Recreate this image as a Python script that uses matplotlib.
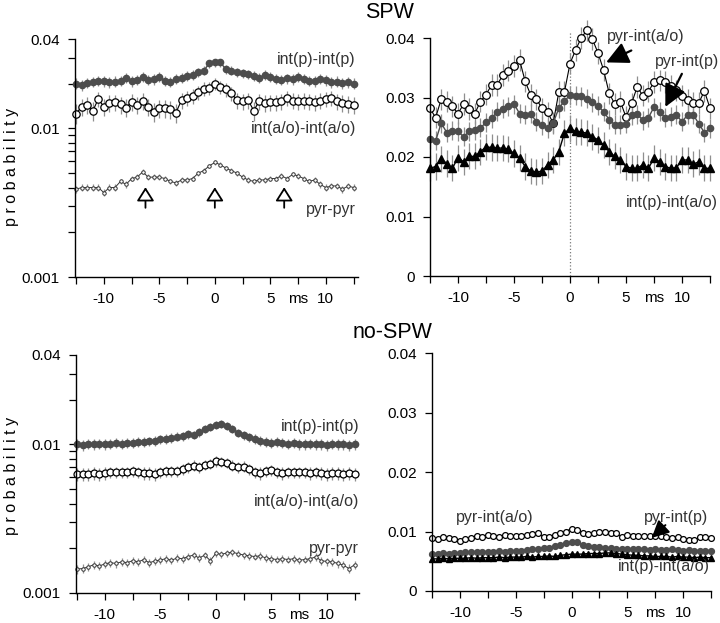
import numpy as np
import matplotlib
matplotlib.use('Agg')
import matplotlib.pyplot as plt
from matplotlib.ticker import FixedLocator, NullFormatter, FixedFormatter

plt.rcParams['font.family'] = ['Liberation Sans', 'DejaVu Sans']

# lag bins (ms)
lags = np.arange(-25, 26) * 0.5

# SPW, log panel
spw_ii_p = [0.0200, 0.0196, 0.0203, 0.0206, 0.0209, 0.0208, 0.0204, 0.0207, 0.0210, 0.0218, 0.0208, 0.0212, 0.0222,
            0.0212, 0.0214, 0.0222, 0.0210, 0.0206, 0.0215, 0.0220, 0.0225, 0.0230, 0.0238, 0.0245, 0.0274, 0.0278,
            0.0278, 0.0250, 0.0245, 0.0240, 0.0236, 0.0232, 0.0225, 0.0218, 0.0230, 0.0222, 0.0216, 0.0212, 0.0217,
            0.0214, 0.0222, 0.0215, 0.0210, 0.0208, 0.0216, 0.0211, 0.0205, 0.0207, 0.0202, 0.0204, 0.0200]
spw_ii_ao = [0.0126, 0.0140, 0.0144, 0.0131, 0.0158, 0.0140, 0.0148, 0.0150, 0.0145, 0.0138, 0.0151, 0.0144, 0.0153,
             0.0140, 0.0130, 0.0137, 0.0137, 0.0135, 0.0128, 0.0155, 0.0160, 0.0165, 0.0175, 0.0185, 0.0186, 0.0200,
             0.0190, 0.0183, 0.0172, 0.0155, 0.0152, 0.0155, 0.0132, 0.0152, 0.0148, 0.0150, 0.0150, 0.0152, 0.0160,
             0.0154, 0.0152, 0.0154, 0.0152, 0.0150, 0.0154, 0.0158, 0.0160, 0.0152, 0.0148, 0.0146, 0.0144]
spw_pp = [0.0039, 0.0040, 0.0040, 0.0040, 0.0040, 0.0037, 0.0040, 0.0040, 0.0044, 0.0042, 0.0046, 0.0047, 0.0051,
          0.0047, 0.0047, 0.0047, 0.0046, 0.0044, 0.0043, 0.0045, 0.0045, 0.0046, 0.0050, 0.0052, 0.0056, 0.0059,
          0.0057, 0.0054, 0.0052, 0.0050, 0.0047, 0.0045, 0.0044, 0.0045, 0.0045, 0.0046, 0.0046, 0.0048, 0.0046,
          0.0049, 0.0048, 0.0046, 0.0044, 0.0045, 0.0042, 0.0040, 0.0041, 0.0041, 0.0039, 0.0041, 0.0040]

# SPW, linear panel
spw_pi_ao = [0.0282, 0.0266, 0.0297, 0.0293, 0.0285, 0.0273, 0.0289, 0.0281, 0.0273, 0.0293, 0.0305, 0.0321, 0.0321,
             0.0338, 0.0345, 0.0353, 0.0363, 0.0327, 0.0304, 0.0297, 0.0282, 0.0275, 0.0257, 0.0309, 0.0309, 0.0357,
             0.0380, 0.0400, 0.0413, 0.0398, 0.0375, 0.0346, 0.0307, 0.0289, 0.0293, 0.0267, 0.0290, 0.0318, 0.0303,
             0.0310, 0.0326, 0.0329, 0.0326, 0.0320, 0.0312, 0.0303, 0.0296, 0.0291, 0.0291, 0.0311, 0.0282]
spw_pi_p = [0.0230, 0.0227, 0.0257, 0.0241, 0.0244, 0.0243, 0.0234, 0.0243, 0.0245, 0.0249, 0.0258, 0.0265, 0.0276,
            0.0281, 0.0285, 0.0289, 0.0273, 0.0271, 0.0273, 0.0259, 0.0253, 0.0248, 0.0257, 0.0282, 0.0294, 0.0304,
            0.0303, 0.0302, 0.0298, 0.0292, 0.0286, 0.0276, 0.0263, 0.0254, 0.0254, 0.0256, 0.0270, 0.0272, 0.0262,
            0.0266, 0.0284, 0.0276, 0.0266, 0.0268, 0.0271, 0.0259, 0.0271, 0.0271, 0.0256, 0.0241, 0.0248]
spw_ip_iao = [0.0181, 0.0184, 0.0197, 0.0189, 0.0181, 0.0199, 0.0192, 0.0201, 0.0201, 0.0209, 0.0217, 0.0216, 0.0215,
              0.0215, 0.0213, 0.0206, 0.0198, 0.0184, 0.0176, 0.0175, 0.0176, 0.0187, 0.0195, 0.0209, 0.0240, 0.0248,
              0.0243, 0.0242, 0.0240, 0.0234, 0.0229, 0.0220, 0.0209, 0.0201, 0.0195, 0.0184, 0.0181, 0.0181, 0.0187,
              0.0181, 0.0198, 0.0192, 0.0184, 0.0181, 0.0182, 0.0195, 0.0195, 0.0188, 0.0192, 0.0181, 0.0181]

# no-SPW, log panel
no_ii_p = [0.0100, 0.0099, 0.0101, 0.0100, 0.0101, 0.0100, 0.0101, 0.0102, 0.0101, 0.0103, 0.0102, 0.0104, 0.0104,
           0.0105, 0.0106, 0.0108, 0.0109, 0.0111, 0.0113, 0.0114, 0.0117, 0.0116, 0.0121, 0.0127, 0.0132, 0.0136,
           0.0137, 0.0134, 0.0128, 0.0120, 0.0115, 0.0112, 0.0109, 0.0106, 0.0104, 0.0103, 0.0104, 0.0102, 0.0101,
           0.0102, 0.0100, 0.0100, 0.0101, 0.0100, 0.0100, 0.0099, 0.0101, 0.0100, 0.0100, 0.0099, 0.0100]
no_ii_ao = [0.0063, 0.0063, 0.0063, 0.0064, 0.0063, 0.0064, 0.0065, 0.0065, 0.0065, 0.0065, 0.0066, 0.0065, 0.0064,
            0.0064, 0.0063, 0.0065, 0.0066, 0.0066, 0.0066, 0.0068, 0.0070, 0.0072, 0.0070, 0.0073, 0.0074, 0.0077,
            0.0076, 0.0075, 0.0072, 0.0070, 0.0071, 0.0068, 0.0065, 0.0064, 0.0066, 0.0067, 0.0065, 0.0064, 0.0065,
            0.0065, 0.0065, 0.0065, 0.0064, 0.0065, 0.0064, 0.0063, 0.0064, 0.0064, 0.0063, 0.0064, 0.0063]
no_pp = [0.00145, 0.00146, 0.00150, 0.00155, 0.00152, 0.00157, 0.00160, 0.00158, 0.00162, 0.00160, 0.00165, 0.00162,
         0.00168, 0.00160, 0.00164, 0.00167, 0.00170, 0.00166, 0.00172, 0.00170, 0.00176, 0.00180, 0.00172, 0.00180,
         0.00165, 0.00185, 0.00182, 0.00186, 0.00188, 0.00184, 0.00180, 0.00178, 0.00176, 0.00178, 0.00172, 0.00170,
         0.00168, 0.00170, 0.00168, 0.00170, 0.00166, 0.00168, 0.00170, 0.00175, 0.00165, 0.00163, 0.00162, 0.00158,
         0.00154, 0.00146, 0.00155]

# no-SPW, linear panel
no_pi_ao = [0.0089, 0.0088, 0.0091, 0.0089, 0.0087, 0.0084, 0.0088, 0.0089, 0.0093, 0.0091, 0.0094, 0.0093, 0.0091,
            0.0094, 0.0092, 0.0093, 0.0093, 0.0094, 0.0095, 0.0098, 0.0090, 0.0091, 0.0094, 0.0097, 0.0100, 0.0105,
            0.0103, 0.0097, 0.0095, 0.0098, 0.0099, 0.0100, 0.0098, 0.0097, 0.0091, 0.0094, 0.0092, 0.0092, 0.0093,
            0.0092, 0.0092, 0.0092, 0.0090, 0.0089, 0.0090, 0.0087, 0.0086, 0.0085, 0.0091, 0.0090, 0.0089]
no_pi_p = [0.0063, 0.0063, 0.0064, 0.0063, 0.0064, 0.0064, 0.0065, 0.0065, 0.0065, 0.0066, 0.0065, 0.0066, 0.0067,
           0.0066, 0.0067, 0.0068, 0.0068, 0.0069, 0.0070, 0.0070, 0.0072, 0.0073, 0.0075, 0.0078, 0.0081, 0.0083,
           0.0082, 0.0078, 0.0076, 0.0074, 0.0074, 0.0073, 0.0072, 0.0071, 0.0070, 0.0070, 0.0071, 0.0070, 0.0070,
           0.0069, 0.0070, 0.0069, 0.0069, 0.0070, 0.0069, 0.0068, 0.0069, 0.0068, 0.0068, 0.0068, 0.0068]
no_ip_iao = [0.0054, 0.0054, 0.0055, 0.0054, 0.0055, 0.0055, 0.0055, 0.0056, 0.0055, 0.0056, 0.0056, 0.0056, 0.0057,
             0.0056, 0.0057, 0.0057, 0.0057, 0.0058, 0.0057, 0.0058, 0.0058, 0.0059, 0.0058, 0.0060, 0.0061, 0.0062,
             0.0062, 0.0062, 0.0063, 0.0063, 0.0063, 0.0064, 0.0064, 0.0063, 0.0062, 0.0061, 0.0060, 0.0060, 0.0059,
             0.0059, 0.0058, 0.0058, 0.0058, 0.0057, 0.0058, 0.0057, 0.0057, 0.0056, 0.0057, 0.0056, 0.0056]

xticks = [-12.5, -10, -7.5, -5, -2.5, 0, 2.5, 5, 7.5, 10, 12.5]
xticklabels = ['', '-10', '', '-5', '', '0', '', '5', 'ms', '10', '']

W, H = 720, 623
fig = plt.figure(figsize=(7.2, 6.23), dpi=100)


def make_ax(l, t, r, b):
    ax = fig.add_axes([l / W, 1 - b / H, (r - l) / W, (b - t) / H])
    for s in ['top', 'right']:
        ax.spines[s].set_visible(False)
    for s in ['left', 'bottom']:
        ax.spines[s].set_linewidth(1.0)
    ax.set_xticks(xticks)
    ax.set_xticklabels(xticklabels)
    ax.tick_params(labelsize=11, length=5, width=0.9, direction='out', pad=6)
    ax.tick_params(which='minor', length=5, width=0.9)
    return ax


def log_axis(ax):
    ax.set_yscale('log')
    ax.set_ylim(0.001, 0.04)
    ax.yaxis.set_major_locator(FixedLocator([0.001, 0.01, 0.04]))
    ax.yaxis.set_major_formatter(FixedFormatter(['0.001', '0.01', '0.04']))
    ax.yaxis.set_minor_locator(FixedLocator([0.002, 0.003, 0.004, 0.005, 0.006, 0.007, 0.008, 0.009, 0.02, 0.03]))
    ax.yaxis.set_minor_formatter(NullFormatter())


def lin_axis(ax):
    ax.set_ylim(0, 0.04)
    ax.set_yticks([0, 0.01, 0.02, 0.03, 0.04])
    ax.set_yticklabels(['0', '0.01', '0.02', '0.03', '0.04'])


def series(ax, y, err, **kw):
    ax.errorbar(lags, y, yerr=err, ecolor='#8f8f8f', elinewidth=0.9, capsize=0, clip_on=False, **kw)


filled = dict(marker='o', color='#4d4d4d', mfc='#4d4d4d', mec='#4d4d4d', lw=1.0)
hollow = dict(marker='o', color='black', mfc='white', mec='black', mew=0.9, lw=0.8)
tri = dict(marker='^', color='black', mfc='black', mec='black', lw=1.0)
lab = dict(fontsize=11.5, color='#333333')

# ---- SPW, log
ax1 = make_ax(75, 39, 358, 277)
log_axis(ax1)
ax1.set_xlim(-12.6, 12.9)
series(ax1, spw_ii_p, 0.0017, ms=4.5, **filled)
series(ax1, spw_ii_ao, 0.0019, ms=5.3, **hollow)
series(ax1, spw_pp, 0.0002, ms=2.5, marker='o', color='#333333', mfc='white', mec='#333333', mew=0.7, lw=0.7)
for xa in [-6.25, 0, 6.25]:
    ax1.annotate('', xy=(xa, 0.0042), xytext=(xa, 0.0028),
                 arrowprops=dict(arrowstyle='-|>,head_length=0.6,head_width=0.38', mutation_scale=14,
                                 fc='white', ec='black', lw=1.3))
ax1.text(12.7, 0.0289, 'int(p)-int(p)', ha='right', va='center', **lab)
ax1.text(12.7, 0.0100, 'int(a/o)-int(a/o)', ha='right', va='center', **lab)
ax1.text(12.7, 0.00283, 'pyr-pyr', ha='right', va='center', **lab)

# ---- SPW, linear
ax2 = make_ax(430, 38, 710, 276)
lin_axis(ax2)
ax2.set_xlim(-12.5, 12.5)
ax2.axvline(0, ymax=1.03, color='#777777', ls=':', lw=0.9, clip_on=False)
series(ax2, spw_pi_ao, 0.0018, ms=5.5, **hollow)
series(ax2, spw_pi_p, 0.0016, ms=4.5, **filled)
series(ax2, spw_ip_iao, 0.0022, ms=5.5, **tri)
arr = dict(arrowstyle='-|>,head_length=0.9,head_width=0.45', mutation_scale=15, fc='black', ec='black', lw=1.6)
ax2.annotate('', xy=(3.0, 0.0357), xytext=(5.7, 0.0381), arrowprops=arr)
ax2.annotate('', xy=(8.4, 0.0280), xytext=(10.1, 0.0344), arrowprops=arr)
ax2.text(3.3, 0.0402, 'pyr-int(a/o)', ha='left', va='center', **lab)
ax2.text(7.6, 0.0360, 'pyr-int(p)', ha='left', va='center', **lab)
ax2.text(13.2, 0.0124, 'int(p)-int(a/o)', ha='right', va='center', **lab)

# ---- no-SPW, log
ax3 = make_ax(76, 355, 359, 593)
log_axis(ax3)
ax3.set_xlim(-12.6, 12.9)
series(ax3, no_ii_p, 0.0008, ms=4.5, **filled)
series(ax3, no_ii_ao, 0.0006, ms=5, **hollow)
series(ax3, no_pp, 0.0001, ms=2.5, marker='o', color='#333333', mfc='white', mec='#333333', mew=0.7, lw=0.7)
ax3.text(12.9, 0.0132, 'int(p)-int(p)', ha='right', va='center', **lab)
ax3.text(12.9, 0.00412, 'int(a/o)-int(a/o)', ha='right', va='center', **lab)
ax3.text(12.9, 0.0020, 'pyr-pyr', ha='right', va='center', **lab)

# ---- no-SPW, linear
ax4 = make_ax(432, 353, 711, 591)
lin_axis(ax4)
ax4.set_xlim(-12.5, 12.5)
series(ax4, no_pi_p, 0.0004, ms=4.2, **filled)
series(ax4, no_ip_iao, 0.0004, ms=4.2, **tri)
series(ax4, no_pi_ao, 0.0003, ms=4.2, **hollow)
ax4.annotate('', xy=(7.0, 0.0086), xytext=(8.6, 0.0114),
             arrowprops=dict(arrowstyle='-|>,head_length=0.8,head_width=0.4', mutation_scale=13,
                             fc='black', ec='black', lw=1.4))
ax4.text(-10.4, 0.0123, 'pyr-int(a/o)', ha='left', va='center', **lab)
ax4.text(6.5, 0.0123, 'pyr-int(p)', ha='left', va='center', **lab)
ax4.text(12.4, 0.0041, 'int(p)-int(a/o)', ha='right', va='center', **lab)

# titles and y labels
fig.text(390 / W, 1 - 12 / H, 'SPW', ha='center', va='center', fontsize=15.5)
fig.text(393 / W, 1 - 332 / H, 'no-SPW', ha='center', va='center', fontsize=15.5)
fig.text(12 / W, 1 - 167 / H, 'p r o b a b i l i t y', rotation=90, ha='center', va='center', fontsize=11.5)
fig.text(12 / W, 1 - 476 / H, 'p r o b a b i l i t y', rotation=90, ha='center', va='center', fontsize=11.5)

fig.savefig('out.png', dpi=100)
